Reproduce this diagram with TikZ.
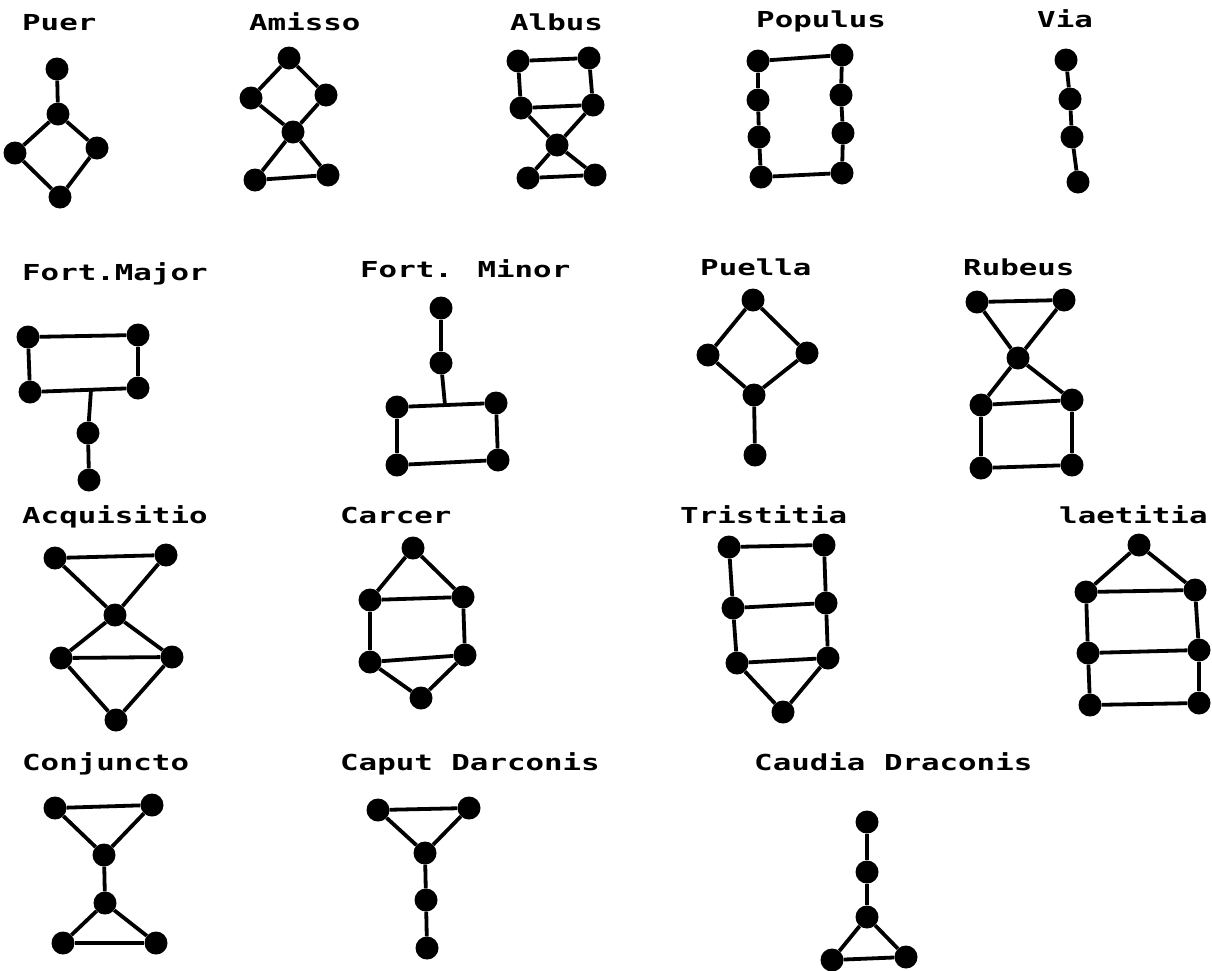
\documentclass[tikz,border=0pt]{standalone}
\usepackage{fontspec}
\usepackage{tikz}
\newfontfamily\geofont[FakeStretch=1.4]{DejaVu Sans Mono}
\tikzset{
  geo dot/.style   = {circle, fill=black, inner sep=0pt, minimum size=23pt},
  geo line/.style  = {line width=3.8pt},
  fig label/.style = {anchor=base west, inner sep=0pt,
                      font=\geofont\bfseries\fontsize{22}{22}\selectfont},
}

\begin{document}
\begin{tikzpicture}[x=1pt, y=-1pt]

  \useasboundingbox (0,0) rectangle (1212,970);

  % ── row 1 ────────────────────────────────────────────────────────────────
  % Puer
  \node[fig label] (puer) at (22,30) {Puer};
  \node[geo dot] (puer1) at (57,69)  {};
  \node[geo dot] (puer2) at (58,114) {};
  \node[geo dot] (puer3) at (15,153) {};
  \node[geo dot] (puer4) at (97,148) {};
  \node[geo dot] (puer5) at (60,197) {};
  \foreach \a/\b in {1/2, 2/3, 2/4, 3/5, 4/5}
    \draw[geo line] (puer\a) -- (puer\b);

  % Amisso
  \node[fig label] (amisso) at (249,30) {Amisso};
  \node[geo dot] (amisso1) at (289,58)  {};
  \node[geo dot] (amisso2) at (251,98)  {};
  \node[geo dot] (amisso3) at (326,95)  {};
  \node[geo dot] (amisso4) at (293,132) {};
  \node[geo dot] (amisso5) at (255,180) {};
  \node[geo dot] (amisso6) at (328,175) {};
  \foreach \a/\b in {1/2, 1/3, 2/4, 3/4, 4/5, 4/6, 5/6}
    \draw[geo line] (amisso\a) -- (amisso\b);

  % Albus
  \node[fig label] (albus) at (510,30) {Albus};
  \node[geo dot] (albus1) at (518,61)  {};
  \node[geo dot] (albus2) at (589,58)  {};
  \node[geo dot] (albus3) at (521,108) {};
  \node[geo dot] (albus4) at (593,105) {};
  \node[geo dot] (albus5) at (557,145) {};
  \node[geo dot] (albus6) at (528,178) {};
  \node[geo dot] (albus7) at (595,175) {};
  \foreach \a/\b in {1/2, 1/3, 2/4, 3/4, 3/5, 4/5, 5/6, 5/7, 6/7}
    \draw[geo line] (albus\a) -- (albus\b);

  % Populus
  \node[fig label] (populus) at (756,27) {Populus};
  \node[geo dot] (popL1) at (758,61)  {};
  \node[geo dot] (popL2) at (758,100) {};
  \node[geo dot] (popL3) at (759,137) {};
  \node[geo dot] (popL4) at (761,177) {};
  \node[geo dot] (popR1) at (842,55)  {};
  \node[geo dot] (popR2) at (841,95)  {};
  \node[geo dot] (popR3) at (843,133) {};
  \node[geo dot] (popR4) at (842,173) {};
  \foreach \a/\b in {1/2, 2/3, 3/4}{
    \draw[geo line] (popL\a) -- (popL\b);
    \draw[geo line] (popR\a) -- (popR\b);
  }
  \draw[geo line] (popL1) -- (popR1);
  \draw[geo line] (popL4) -- (popR4);

  % Via
  \node[fig label] (via) at (1037,27) {Via};
  \node[geo dot] (via1) at (1066,60)  {};
  \node[geo dot] (via2) at (1070,99)  {};
  \node[geo dot] (via3) at (1072,137) {};
  \node[geo dot] (via4) at (1078,182) {};
  \foreach \a/\b in {1/2, 2/3, 3/4}
    \draw[geo line] (via\a) -- (via\b);

  % ── row 2 ────────────────────────────────────────────────────────────────
  % Fortuna Major
  \node[fig label] (fmaj) at (22,280) {Fort.Major};
  \node[geo dot] (fmaj1) at (28,337)  {};
  \node[geo dot] (fmaj2) at (138,335) {};
  \node[geo dot] (fmaj3) at (30,392)  {};
  \node[geo dot] (fmaj4) at (138,388) {};
  \node[geo dot] (fmaj5) at (88,433)  {};
  \node[geo dot] (fmaj6) at (89,480)  {};
  \coordinate (fmajj) at (91,390);
  \foreach \a/\b in {1/2, 1/3, 2/4, 3/4, 5/6}
    \draw[geo line] (fmaj\a) -- (fmaj\b);
  \draw[geo line] (fmajj) -- (fmaj5);

  % Fortuna Minor
  \node[fig label] (fmin) at (360,277) {Fort. Minor};
  \node[geo dot] (fmin1) at (441,308) {};
  \node[geo dot] (fmin2) at (441,363) {};
  \node[geo dot] (fmin3) at (397,407) {};
  \node[geo dot] (fmin4) at (496,403) {};
  \node[geo dot] (fmin5) at (397,465) {};
  \node[geo dot] (fmin6) at (498,460) {};
  \coordinate (fminj) at (445,405);
  \foreach \a/\b in {1/2, 3/4, 3/5, 4/6, 5/6}
    \draw[geo line] (fmin\a) -- (fmin\b);
  \draw[geo line] (fmin2) -- (fminj);

  % Puella
  \node[fig label] (puella) at (700,275) {Puella};
  \node[geo dot] (puella1) at (753,300) {};
  \node[geo dot] (puella2) at (708,355) {};
  \node[geo dot] (puella3) at (807,353) {};
  \node[geo dot] (puella4) at (754,395) {};
  \node[geo dot] (puella5) at (755,455) {};
  \foreach \a/\b in {1/2, 1/3, 2/4, 3/4, 4/5}
    \draw[geo line] (puella\a) -- (puella\b);

  % Rubeus
  \node[fig label] (rubeus) at (963,275) {Rubeus};
  \node[geo dot] (rubeus1) at (977,302)  {};
  \node[geo dot] (rubeus2) at (1064,300) {};
  \node[geo dot] (rubeus3) at (1018,358) {};
  \node[geo dot] (rubeus4) at (981,405)  {};
  \node[geo dot] (rubeus5) at (1072,400) {};
  \node[geo dot] (rubeus6) at (981,468)  {};
  \node[geo dot] (rubeus7) at (1072,465) {};
  \foreach \a/\b in {1/2, 1/3, 2/3, 3/4, 3/5, 4/5, 4/6, 5/7, 6/7}
    \draw[geo line] (rubeus\a) -- (rubeus\b);

  % ── row 3 ────────────────────────────────────────────────────────────────
  % Acquisitio
  \node[fig label] (acq) at (22,523) {Acquisitio};
  \node[geo dot] (acq1) at (55,558)  {};
  \node[geo dot] (acq2) at (166,555) {};
  \node[geo dot] (acq3) at (115,615) {};
  \node[geo dot] (acq4) at (61,658)  {};
  \node[geo dot] (acq5) at (172,657) {};
  \node[geo dot] (acq6) at (116,720) {};
  \foreach \a/\b in {1/2, 1/3, 2/3, 3/4, 3/5, 4/5, 4/6, 5/6}
    \draw[geo line] (acq\a) -- (acq\b);

  % Carcer
  \node[fig label] (carcer) at (340,523) {Carcer};
  \node[geo dot] (carcer1) at (413,548) {};
  \node[geo dot] (carcer2) at (370,600) {};
  \node[geo dot] (carcer3) at (463,597) {};
  \node[geo dot] (carcer4) at (370,662) {};
  \node[geo dot] (carcer5) at (465,655) {};
  \node[geo dot] (carcer6) at (421,698) {};
  \foreach \a/\b in {1/2, 1/3, 2/3, 2/4, 3/5, 4/5, 4/6, 5/6}
    \draw[geo line] (carcer\a) -- (carcer\b);

  % Tristitia
  \node[fig label] (trist) at (680,523) {Tristitia};
  \node[geo dot] (trist1) at (729,547) {};
  \node[geo dot] (trist2) at (824,545) {};
  \node[geo dot] (trist3) at (733,608) {};
  \node[geo dot] (trist4) at (826,603) {};
  \node[geo dot] (trist5) at (737,663) {};
  \node[geo dot] (trist6) at (828,658) {};
  \node[geo dot] (trist7) at (783,712) {};
  \foreach \a/\b in {1/2, 1/3, 2/4, 3/4, 3/5, 4/6, 5/6, 5/7, 6/7}
    \draw[geo line] (trist\a) -- (trist\b);

  % Laetitia
  \node[fig label] (laet) at (1059,523) {laetitia};
  \node[geo dot] (laet1) at (1139,545) {};
  \node[geo dot] (laet2) at (1086,592) {};
  \node[geo dot] (laet3) at (1195,590) {};
  \node[geo dot] (laet4) at (1088,653) {};
  \node[geo dot] (laet5) at (1199,650) {};
  \node[geo dot] (laet6) at (1090,705) {};
  \node[geo dot] (laet7) at (1199,703) {};
  \foreach \a/\b in {1/2, 1/3, 2/3, 2/4, 3/5, 4/5, 4/6, 5/7, 6/7}
    \draw[geo line] (laet\a) -- (laet\b);

  % ── row 4 ────────────────────────────────────────────────────────────────
  % Conjunctio
  \node[fig label] (conj) at (22,770) {Conjuncto};
  \node[geo dot] (conj1) at (55,808)  {};
  \node[geo dot] (conj2) at (152,805) {};
  \node[geo dot] (conj3) at (104,855) {};
  \node[geo dot] (conj4) at (105,903) {};
  \node[geo dot] (conj5) at (63,943)  {};
  \node[geo dot] (conj6) at (156,943) {};
  \foreach \a/\b in {1/2, 1/3, 2/3, 3/4, 4/5, 4/6, 5/6}
    \draw[geo line] (conj\a) -- (conj\b);

  % Caput Draconis
  \node[fig label] (caput) at (340,770) {Caput Darconis};
  \node[geo dot] (caput1) at (378,810) {};
  \node[geo dot] (caput2) at (469,808) {};
  \node[geo dot] (caput3) at (425,853) {};
  \node[geo dot] (caput4) at (426,900) {};
  \node[geo dot] (caput5) at (427,948) {};
  \foreach \a/\b in {1/2, 1/3, 2/3, 3/4, 4/5}
    \draw[geo line] (caput\a) -- (caput\b);

  % Cauda Draconis
  \node[fig label] (cauda) at (754,770) {Caudia Draconis};
  \node[geo dot] (cauda1) at (867,822) {};
  \node[geo dot] (cauda2) at (867,872) {};
  \node[geo dot] (cauda3) at (867,917) {};
  \node[geo dot] (cauda4) at (832,960) {};
  \node[geo dot] (cauda5) at (906,957) {};
  \foreach \a/\b in {1/2, 2/3, 3/4, 3/5, 4/5}
    \draw[geo line] (cauda\a) -- (cauda\b);

\end{tikzpicture}
\end{document}
